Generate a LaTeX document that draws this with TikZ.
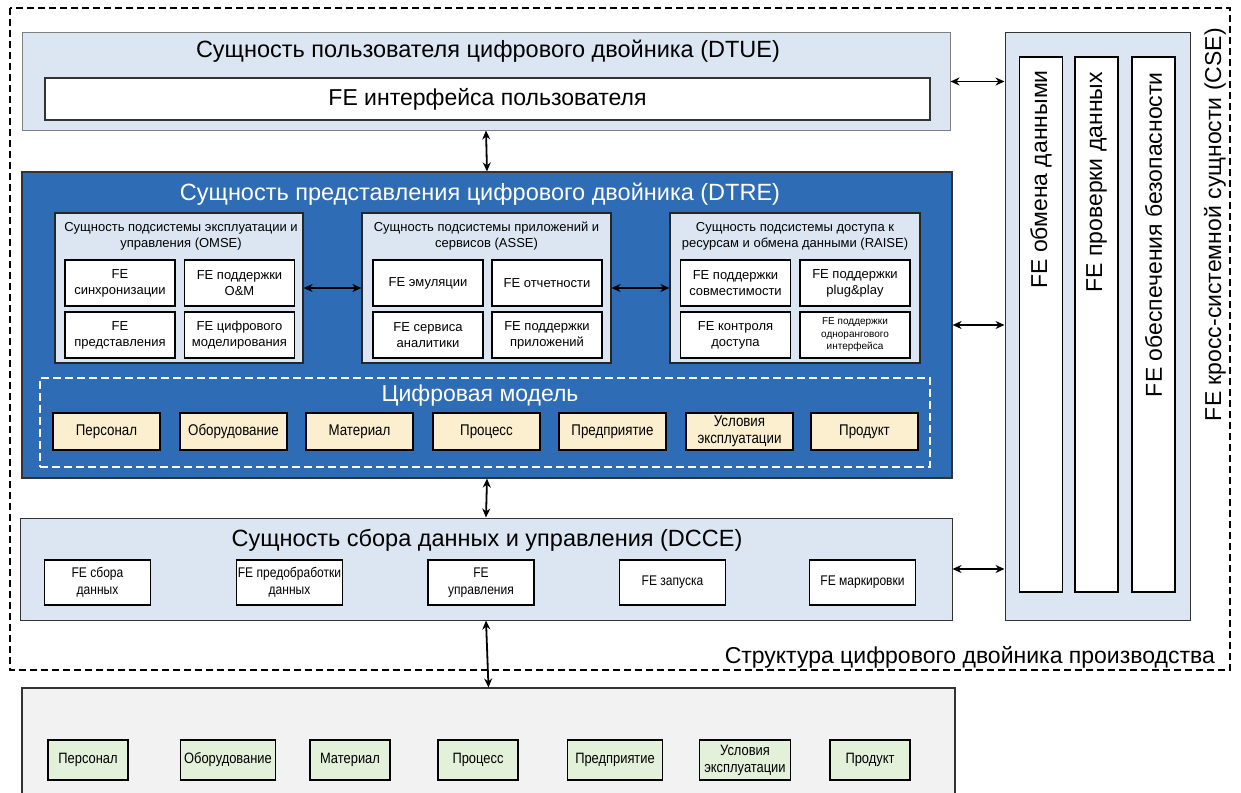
\documentclass[tikz,border=0pt]{standalone}
\usepackage{fontspec}
\setmainfont{Liberation Sans}
\newfontfamily\narrowfont{Liberation Sans}[FakeStretch=0.86]
\usetikzlibrary{arrows.meta}
\definecolor{lightblue}{HTML}{DCE6F2}
\definecolor{dtreblue}{HTML}{2E6DB5}
\definecolor{beige}{HTML}{FCEFCF}
\definecolor{lgreen}{HTML}{E3F0DA}
\definecolor{lgray}{HTML}{F2F2F2}
\definecolor{bordergray}{HTML}{7F7F7F}
\begin{document}
\begin{tikzpicture}[x=1pt,y=-1pt,
  entity/.style={draw=bordergray, fill=lightblue, line width=1pt, inner sep=0pt},
  subsys/.style={draw=black!85, fill=lightblue, line width=1.2pt, inner sep=0pt},
  fe/.style={draw=black, fill=white, line width=1.4pt, align=center, inner sep=1pt,
    font=\fontsize{13}{16}\selectfont},
  dm/.style={draw=black, fill=beige, line width=1.2pt, align=center, inner sep=1pt,
    minimum width=107pt, minimum height=37pt, font=\narrowfont\fontsize{15.5}{17}\selectfont},
  dc/.style={draw=black, fill=white, line width=1.2pt, align=center, inner sep=1pt,
    minimum width=106pt, minimum height=45pt, font=\narrowfont\fontsize{14}{17}\selectfont},
  pl/.style={draw=black, fill=lgreen, line width=1.1pt, align=center, inner sep=0pt,
    minimum height=40pt, font=\narrowfont\fontsize{15}{17}\selectfont},
  col/.style={draw=black, fill=white, line width=1.2pt, minimum width=43pt, minimum height=535pt, inner sep=0pt},
  coltext/.style={rotate=90, anchor=east, font=\fontsize{23}{27}\selectfont, inner sep=0pt},
  bigtitle/.style={font=\fontsize{23.5}{27}\selectfont, inner sep=0pt},
  subtitle/.style={font=\fontsize{13}{16}\selectfont, align=center, inner sep=0pt},
  arr/.style={{Stealth[length=9pt,width=8pt]}-{Stealth[length=9pt,width=8pt]}, line width=1.8pt}]
\useasboundingbox (0,0) rectangle (1241,792);
\fill[white] (0,0) rectangle (1241,792);

% outer frame
\draw[line width=1.8pt, dash pattern=on 7pt off 4pt] (10,8) rectangle (1230,670);
\node[anchor=east, font=\fontsize{23}{26}\selectfont, inner sep=0pt] (struct) at (1215,657) {Структура цифрового двойника производства};

% DTUE
\node[entity, minimum width=928pt, minimum height=97pt] (dtue) at (486,81.5) {};
\node[bigtitle] (dtuet) at (488,51) {Сущность пользователя цифрового двойника (DTUE)};
\node[draw=black!80, fill=white, line width=1.1pt, minimum width=885pt, minimum height=42pt,
  font=\fontsize{23}{26}\selectfont] (ui) at (487.5,99) {FE интерфейса пользователя};

% DTRE
\node[draw=black!80, fill=dtreblue, line width=1.2pt, minimum width=930pt, minimum height=306pt, inner sep=0pt] (dtre) at (487,325) {};
\node[bigtitle, text=white] (dtret) at (480,194) {Сущность представления цифрового двойника (DTRE)};

% OMSE
\node[subsys, minimum width=248pt, minimum height=150pt] (omse) at (179,288) {};
\node[subtitle] (omset) at (181,236) {Сущность подсистемы эксплуатации и\\управления (OMSE)};
\node[fe, minimum width=110pt, minimum height=46pt] (o1) at (120,283) {FE\\синхронизации};
\node[fe, minimum width=110pt, minimum height=46pt] (o2) at (239.5,283) {FE поддержки\\O\&M};
\node[fe, minimum width=110pt, minimum height=46pt] (o3) at (120,335) {FE\\представления};
\node[fe, minimum width=110pt, minimum height=46pt] (o4) at (239.5,335) {FE цифрового\\моделирования};

% ASSE
\node[subsys, minimum width=249pt, minimum height=150pt] (asse) at (486.5,288) {};
\node[subtitle] (asset) at (486.5,236) {Сущность подсистемы приложений и\\сервисов (ASSE)};
\node[fe, minimum width=110pt, minimum height=46pt] (a1) at (428,283) {FE эмуляции};
\node[fe, minimum width=110pt, minimum height=46pt] (a2) at (547,283) {FE отчетности};
\node[fe, minimum width=110pt, minimum height=46pt] (a3) at (428,335) {FE сервиса\\аналитики};
\node[fe, minimum width=110pt, minimum height=46pt] (a4) at (547,335) {FE поддержки\\приложений};

% RAISE
\node[subsys, minimum width=250pt, minimum height=150pt] (raise) at (795,288) {};
\node[subtitle] (raiset) at (795,236) {Сущность подсистемы доступа к\\ресурсам и обмена данными (RAISE)};
\node[fe, minimum width=110pt, minimum height=46pt] (r1) at (735.5,283) {FE поддержки\\совместимости};
\node[fe, minimum width=110pt, minimum height=46pt] (r2) at (855,283) {FE поддержки\\plug\&play};
\node[fe, minimum width=110pt, minimum height=46pt] (r3) at (735.5,335) {FE контроля\\доступа};
\node[fe, minimum width=110pt, minimum height=46pt, font=\fontsize{10}{12.5}\selectfont] (r4) at (855,335) {FE поддержки\\однорангового\\интерфейса};

\draw[arr] (omse.east) -- (asse.west);
\draw[arr] (asse.east) -- (raise.west);

% Digital model
\node[draw=white, line width=2.5pt, dash pattern=on 8pt off 4pt, minimum width=890pt, minimum height=89pt, inner sep=0pt] (dmodel) at (485,422.5) {};
\node[font=\fontsize{23}{26}\selectfont, text=white, inner sep=0pt] (dmt) at (480,396) {Цифровая модель};
\node[dm] (d1) at (106.5,431.5) {Персонал};
\node[dm] (d2) at (233.5,431.5) {Оборудование};
\node[dm] (d3) at (359.5,431.5) {Материал};
\node[dm] (d4) at (486.5,431.5) {Процесс};
\node[dm] (d5) at (612.5,431.5) {Предприятие};
\node[dm] (d6) at (739.5,431.5) {Условия\\эксплуатации};
\node[dm] (d7) at (864.5,431.5) {Продукт};

% DCCE
\node[entity, draw=black!80, minimum width=932pt, minimum height=102pt] (dcce) at (486,569) {};
\node[bigtitle] (dccet) at (487,540) {Сущность сбора данных и управления (DCCE)};
\node[dc] (c1) at (97.5,582.5) {FE сбора\\данных};
\node[dc] (c2) at (289.5,582.5) {FE предобработки\\данных};
\node[dc] (c3) at (481,582.5) {FE\\управления};
\node[dc] (c4) at (672.5,582.5) {FE запуска};
\node[dc] (c5) at (862.5,582.5) {FE маркировки};

% bottom physical
\node[draw=black!80, fill=lgray, line width=1.1pt, minimum width=933pt, minimum height=120pt, inner sep=0pt] (phys) at (488.5,748) {};
\node[pl, minimum width=80pt] (p1) at (88,760) {Персонал};
\node[pl, minimum width=95pt] (p2) at (228,760) {Оборудование};
\node[pl, minimum width=80pt] (p3) at (350,760) {Материал};
\node[pl, minimum width=80pt] (p4) at (478,760) {Процесс};
\node[pl, minimum width=95pt] (p5) at (615,760) {Предприятие};
\node[pl, minimum width=91pt] (p6) at (745,760) {Условия\\эксплуатации};
\node[pl, minimum width=80pt] (p7) at (870,760) {Продукт};

% CSE
\node[entity, draw=black!80, minimum width=185pt, minimum height=587pt] (cse) at (1097.5,326.5) {};
\node[col] (cs1) at (1041,324.5) {};
\node[col] (cs2) at (1096.5,324.5) {};
\node[col] (cs3) at (1153.5,324.5) {};
\node[coltext] (cs1t) at (1041,70) {FE обмена данными};
\node[coltext] (cs2t) at (1096.5,72) {FE проверки данных};
\node[coltext] (cs3t) at (1153.5,72) {FE обеспечения безопасности};
\node[coltext] (cset) at (1215,28) {FE кросс-системной сущности (CSE)};

% connectors
\draw[arr] (dtue.south) -- (dtre.north);
\draw[arr] (dtre.south) -- (dcce.north);
\draw[arr] (dcce.south) -- (phys.north);
\draw[arr] (dtue.east) -- (cse.west |- dtue.east);
\draw[arr] (dtre.east) -- (cse.west |- dtre.east);
\draw[arr] (dcce.east) -- (cse.west |- dcce.east);
\end{tikzpicture}
\end{document}
